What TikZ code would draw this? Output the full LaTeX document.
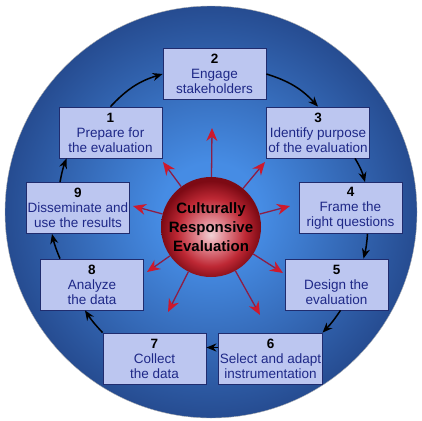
\documentclass[tikz,border=0pt]{standalone}
\usepackage{fontspec}
\setmainfont{Liberation Sans}
\usetikzlibrary{arrows.meta, shadings}
\definecolor{ringdark}{RGB}{38,76,145}
\definecolor{ringlight}{RGB}{70,140,228}
\definecolor{boxfill}{RGB}{188,198,240}
\definecolor{boxline}{RGB}{32,44,110}
\definecolor{boxtext}{RGB}{30,40,135}
\definecolor{rayline}{RGB}{140,30,70}
\definecolor{rayhead}{RGB}{205,25,45}
\definecolor{coredark}{RGB}{125,10,20}
\definecolor{coremid}{RGB}{190,40,52}
\definecolor{corepink}{RGB}{225,135,145}
\definecolor{corelight}{RGB}{242,210,214}
\pgfdeclareradialshading{ringshade}{\pgfpoint{0bp}{0bp}}{%
  color(0bp)=(ringlight); color(6bp)=(ringlight); color(25bp)=(ringdark); color(50bp)=(ringdark)}
\pgfdeclareradialshading{coreshade}{\pgfpoint{0bp}{-4bp}}{%
  color(0bp)=(corelight); color(7bp)=(corepink); color(17bp)=(coremid); color(25bp)=(coredark); color(50bp)=(coredark)}
\tikzset{
    step box/.style={draw=boxline, fill=boxfill, text=boxtext, thick,
        minimum width=103pt, minimum height=51pt, inner sep=1pt,
        align=center, font=\fontsize{13.5}{15}\selectfont},
    cycle arrow/.style={-{Stealth[length=10pt, width=8pt]}, line width=1.5pt, black},
    ray/.style={-{Stealth[length=13pt, width=11pt, color=rayhead, fill=rayhead]},
        draw=rayline, line width=1.3pt},
}

\begin{document}
\begin{tikzpicture}[x=1pt, y=-1pt]
    \useasboundingbox (0,0) rectangle (422,420);
    % background disc
    \shade[shading=ringshade] (211,212) circle (206);
    \draw[gray!60, thin] (211,212) circle (206);

    % steps
    \node[step box] (b1) at (110.5,132.5) {\textbf{\textcolor{black}{1}}\\Prepare for\\the evaluation};
    \node[step box] (b2) at (214.5,74) {\textbf{\textcolor{black}{2}}\\Engage\\stakeholders};
    \node[step box] (b3) at (318,132.5) {\textbf{\textcolor{black}{3}}\\Identify purpose\\of the evaluation};
    \node[step box] (b4) at (350.5,208) {\textbf{\textcolor{black}{4}}\\Frame the\\right questions};
    \node[step box] (b5) at (336.5,284.5) {\textbf{\textcolor{black}{5}}\\Design the\\evaluation};
    \node[step box] (b6) at (270.5,358.5) {\textbf{\textcolor{black}{6}}\\Select and adapt\\instrumentation};
    \node[step box] (b7) at (154.5,358.5) {\textbf{\textcolor{black}{7}}\\Collect\\the data};
    \node[step box] (b8) at (92,284.5) {\textbf{\textcolor{black}{8}}\\Analyze\\the data};
    \node[step box] (b9) at (78,208) {\textbf{\textcolor{black}{9}}\\Disseminate and\\use the results};

    % centre
    \node[circle, minimum size=100pt, inner sep=0pt, shading=coreshade,
        align=center, font=\fontsize{15}{19}\selectfont\bfseries] (core) at (211,227)
        {Culturally\\Responsive\\Evaluation};

    % rays
    \coordinate (r1) at (212,128);
    \coordinate (r2) at (163,162);
    \coordinate (r3) at (265,162);
    \coordinate (r4) at (133,206);
    \coordinate (r5) at (290,206);
    \coordinate (r6) at (147,272);
    \coordinate (r7) at (283,273);
    \coordinate (r8) at (168,312);
    \coordinate (r9) at (260,315);
    \foreach \r in {r1,r2,r3,r4,r5,r6,r7,r8,r9}
        \draw[ray] (core) -- (\r);

    % cycle
    \draw[cycle arrow] (b1.north) to[bend left=15] (b2.west);
    \draw[cycle arrow] (b2.east) to[bend left=15] (b3.north);
    \draw[cycle arrow] ([xshift=37pt]b3.south) to[bend left=8] ([xshift=14.5pt]b4.north);
    \draw[cycle arrow] ([xshift=17pt]b4.south) to[bend left=5] ([xshift=27pt]b5.north);
    \draw[cycle arrow] ([xshift=4pt]b5.south) to[bend left=5] (b6.north east);
    \draw[cycle arrow] ([yshift=11pt]b6.west) -- ([yshift=11pt]b7.east);
    \draw[cycle arrow] (b7.north west) to[bend left=5] ([xshift=-7pt]b8.south);
    \draw[cycle arrow] ([xshift=-32pt]b8.north) to[bend left=5] ([xshift=-26pt]b9.south);
    \draw[cycle arrow] ([xshift=-18pt]b9.north) to[bend left=5] ([xshift=-44pt]b1.south);
\end{tikzpicture}
\end{document}
